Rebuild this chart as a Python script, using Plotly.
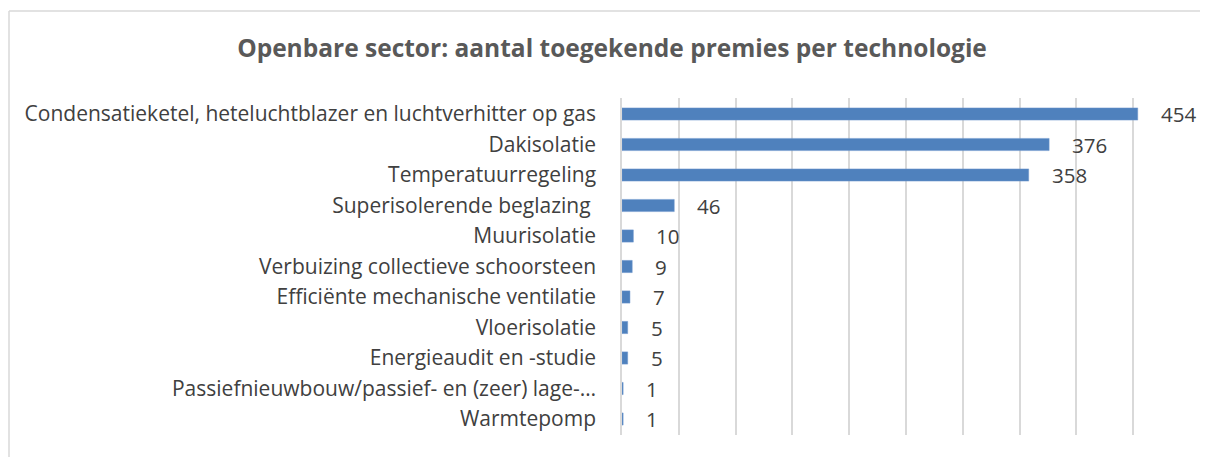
import plotly.graph_objects as go

categories = [
    "Condensatieketel, heteluchtblazer en luchtverhitter op gas",
    "Dakisolatie",
    "Temperatuurregeling",
    "Superisolerende beglazing ",
    "Muurisolatie",
    "Verbuizing collectieve schoorsteen",
    "Efficiënte mechanische ventilatie",
    "Vloerisolatie",
    "Energieaudit en -studie",
    "Passiefnieuwbouw/passief- en (zeer) lage-…",
    "Warmtepomp",
]
values = [454, 376, 358, 46, 10, 9, 7, 5, 5, 1, 1]
title_text = "Openbare sector: aantal toegekende premies per technologie"

OFF = 8  # page body margin
W, H = 1208 - OFF, 457 - OFF
L, R, T, B = 622 - OFF, 18, 98 - OFF, 22
pw, ph = W - L - R, H - T - B

fig = go.Figure()
fig.add_trace(go.Bar(
    x=values, y=categories, orientation="h",
    marker=dict(color="#4f81bd", line=dict(color="#6e97cc", width=0.5)),
    width=0.4, showlegend=False, hoverinfo="x+y",
))
for c, v in zip(categories, values):
    fig.add_annotation(x=v, y=c, text=str(v), showarrow=False, xanchor="left",
                       xshift=21, yshift=0, font=dict(size=20.5, color="#404040"))

# chart frame (left and top edges)
fy = (H - B - (11 - OFF)) / ph
fx = (1 - L) / pw
fig.add_shape(type="line", xref="paper", yref="paper",
              x0=fx, x1=(W + 5 - L) / pw, y0=fy, y1=fy,
              line=dict(color="#d9d9d9", width=1.5))
fig.add_shape(type="line", xref="paper", yref="paper",
              x0=fx, x1=fx, y0=fy, y1=(H - B - 470) / ph,
              line=dict(color="#d9d9d9", width=1.5))

fig.update_layout(
    width=W, height=H,
    margin=dict(l=L, r=R, t=T, b=B),
    paper_bgcolor="white", plot_bgcolor="white",
    font=dict(family="Open Sans, Liberation Sans, sans-serif", color="#404040"),
    title=dict(text="<b>" + title_text + "</b>", x=(612 - OFF) / W, xanchor="center",
               y=1 - (48 - OFF) / H, yanchor="middle", font=dict(size=24.5, color="#595959")),
    xaxis=dict(range=[0, 500], dtick=50, showticklabels=False, showgrid=True,
               gridcolor="#d9d9d9", gridwidth=1.5, zeroline=False, fixedrange=True),
    yaxis=dict(autorange="reversed", showgrid=False, ticks="",
               tickfont=dict(size=21, color="#404040"), ticklabelstandoff=20,
               showline=True, linecolor="#d9d9d9", linewidth=1.5),
    bargap=0.6,
)

fig.write_html("out.html")
